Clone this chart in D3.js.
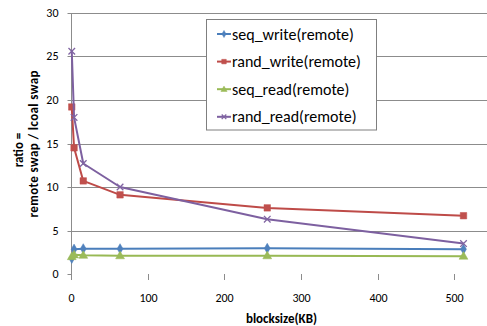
<!DOCTYPE html>
<html>
<head>
<meta charset="utf-8">
<script src="https://cdn.jsdelivr.net/npm/d3@7/dist/d3.min.js"></script>
<style>
  html, body { margin: 0; padding: 0; background: #fff; }
  svg { display: block; }
  text { font-family: Carlito, Calibri, Lato, "Liberation Sans", sans-serif; fill: #000; }
</style>
</head>
<body>
<svg id="chart" width="487" height="326"></svg>
<script>
// ---- data ----
const blockSizes = [1, 4, 16, 64, 256, 512];
const seqWrite  = [1.8, 2.85, 2.9, 2.9, 2.95, 2.85];
const randWrite = [19.2, 14.5, 10.7, 9.1, 7.6, 6.7];
const seqRead   = [2.0, 2.2, 2.15, 2.1, 2.1, 2.05];
const randRead  = [25.6, 18.0, 12.7, 10.0, 6.3, 3.5];
const seriesNames = ["seq_write(remote)", "rand_write(remote)", "seq_read(remote)", "rand_read(remote)"];
const xTickValues = [0, 100, 200, 300, 400, 500];
const yTickValues = [0, 5, 10, 15, 20, 25, 30];
const xTitle = "blocksize(KB)";
const yTitleLines = ["ratio =", "remote swap / lcoal swap"];

// ---- styles ----
const colors = ["#4A7EBB", "#BE4B48", "#98B954", "#7D60A0"];
const markerColors = ["#4F81BD", "#C0504D", "#9BBB59", "#8064A2"];
const markerTypes = ["diamond", "square", "triangle", "cross"];
const gridColor = "#8c8c8c";

const svg = d3.select("#chart");
const plotLeft = 71, plotRight = 487, plotTop = 13, plotBottom = 274;

const x = d3.scaleLinear().domain([0, 500]).range([plotLeft, 454.3]);
const y = d3.scaleLinear().domain([0, 30]).range([plotBottom, plotTop]);

// gridlines (not at zero)
svg.append("g").selectAll("line")
  .data(yTickValues.filter(v => v > 0))
  .join("line")
  .attr("x1", plotLeft).attr("x2", plotRight)
  .attr("y1", d => Math.round(y(d)) + 0.5).attr("y2", d => Math.round(y(d)) + 0.5)
  .attr("stroke", gridColor).attr("stroke-width", 1);

// y axis
const yAxis = svg.append("g")
  .attr("transform", `translate(${plotLeft + 0.5},0)`)
  .call(d3.axisLeft(y).tickValues(yTickValues).tickSize(4).tickPadding(9).tickSizeOuter(0));
yAxis.select(".domain").attr("stroke", gridColor).attr("d", `M0,${plotTop}V${plotBottom + 6}`);
yAxis.selectAll(".tick line").attr("stroke", gridColor);
yAxis.selectAll(".tick text").attr("font-size", 12).style("font-family", "Carlito, Calibri, Lato, sans-serif");
yAxis.selectAll(".tick").attr("transform", d => `translate(0,${Math.round(y(d)) + 0.5})`);

// x axis (no domain line, only ticks)
const xAxis = svg.append("g")
  .attr("transform", `translate(0,${plotBottom})`)
  .call(d3.axisBottom(x).tickValues(xTickValues).tickSize(6).tickPadding(13).tickSizeOuter(0));
xAxis.select(".domain").remove();
xAxis.selectAll(".tick line").attr("stroke", gridColor);
xAxis.selectAll(".tick").attr("transform", d => `translate(${Math.round(x(d)) + 0.5},0)`);
xAxis.selectAll(".tick text").attr("font-size", 12).style("font-family", "Carlito, Calibri, Lato, sans-serif");

// titles
svg.append("text")
  .attr("x", 281.5).attr("y", 318).attr("dy", "0.35em")
  .attr("text-anchor", "middle").attr("font-size", 13).attr("font-weight", "bold")
  .text(xTitle);

svg.append("text")
  .attr("transform", "translate(18,150) rotate(-90)")
  .attr("dy", "0.35em").attr("text-anchor", "middle")
  .attr("font-size", 13).attr("font-weight", "bold")
  .text(yTitleLines[0]);
svg.append("text")
  .attr("transform", "translate(33,144) rotate(-90)")
  .attr("dy", "0.35em").attr("text-anchor", "middle")
  .attr("font-size", 13).attr("font-weight", "bold")
  .attr("textLength", 147).attr("lengthAdjust", "spacing")
  .text(yTitleLines[1]);

// markers
function drawMarker(g, type, cx, cy, color, s) {
  if (type === "diamond") {
    g.append("path").attr("d", d3.symbol(d3.symbolDiamond, 30 * s * s)())
      .attr("transform", `translate(${cx},${cy})`).attr("fill", color).attr("stroke", color).attr("stroke-width", 0.5);
  } else if (type === "square") {
    g.append("path").attr("d", d3.symbol(d3.symbolSquare, 42 * s * s)())
      .attr("transform", `translate(${cx},${cy})`).attr("fill", color).attr("stroke", color).attr("stroke-width", 0.5);
  } else if (type === "triangle") {
    g.append("path").attr("d", d3.symbol(d3.symbolTriangle, 34 * s * s)())
      .attr("transform", `translate(${cx},${cy + 0.5})`).attr("fill", color).attr("stroke", color).attr("stroke-width", 0.5);
  } else {
    const h = 3.3 * s;
    g.append("path").attr("d", `M${cx - h},${cy - h}L${cx + h},${cy + h}M${cx - h},${cy + h}L${cx + h},${cy - h}`)
      .attr("stroke", color).attr("stroke-width", 1.3).attr("fill", "none");
  }
}

const allSeries = [seqWrite, randWrite, seqRead, randRead];
const line = d3.line().x(d => x(d[0])).y(d => y(d[1]));

allSeries.forEach((vals, i) => {
  const pts = blockSizes.map((b, j) => [b, vals[j]]);
  const g = svg.append("g");
  g.append("path").datum(pts).attr("d", line)
    .attr("fill", "none").attr("stroke", colors[i]).attr("stroke-width", 2).attr("stroke-linejoin", "round");
  pts.forEach(p => drawMarker(g, markerTypes[i], x(p[0]), y(p[1]), markerColors[i], 1));
});

// legend
const legend = svg.append("g");
legend.append("rect")
  .attr("x", 206.5).attr("y", 19.5).attr("width", 170).attr("height", 110.5)
  .attr("fill", "#fff").attr("stroke", "#7f7f7f").attr("stroke-width", 1);
seriesNames.forEach((name, i) => {
  const cy = 34 + i * 27.6;
  legend.append("line").attr("x1", 217).attr("x2", 231).attr("y1", cy).attr("y2", cy)
    .attr("stroke", colors[i]).attr("stroke-width", 2);
  drawMarker(legend, markerTypes[i], 224, cy, markerColors[i], 0.7);
  legend.append("text").attr("x", 232).attr("y", cy).attr("dy", "0.35em")
    .attr("font-size", 16).text(name);
});
</script>
</body>
</html>
